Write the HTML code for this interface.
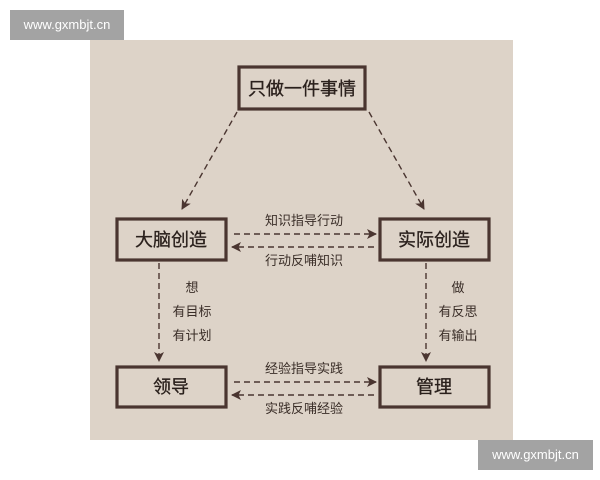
<!DOCTYPE html>
<html><head><meta charset="utf-8"><style>
body{margin:0;width:600px;height:480px;background:#fff;position:relative;overflow:hidden;font-family:"Liberation Sans","Noto Sans CJK SC",sans-serif}
.wm{position:absolute;background:#a3a3a3;color:#fff;font-size:13px;line-height:30px;text-align:center}
</style></head><body>
<div class="wm" style="left:10px;top:10px;width:114px;height:30px">www.gxmbjt.cn</div>
<div style="position:absolute;left:90px;top:40px;width:423px;height:400px;background:#ddd3c8"></div>
<div class="wm" style="left:478px;top:440px;width:115px;height:30px">www.gxmbjt.cn</div>
<svg width="600" height="480" style="position:absolute;left:0;top:0" font-family="Liberation Sans, Noto Sans CJK SC, sans-serif">
<defs><marker id="a" markerWidth="12" markerHeight="12" refX="9" refY="5" orient="auto" markerUnits="userSpaceOnUse"><path d="M0,0 L10,5 L0,10 L2.5,5Z" fill="#4a3530"/></marker></defs>
<g fill="none" stroke="#4a3530" stroke-width="3.2">
<rect x="239" y="67" width="126" height="42"/>
<rect x="117" y="219" width="109" height="41"/>
<rect x="380" y="219" width="109" height="41"/>
<rect x="117" y="367" width="109" height="40"/>
<rect x="380" y="367" width="109" height="40"/>
</g>
<g stroke="#4a3530" stroke-width="1.4" stroke-dasharray="6,4" fill="none" marker-end="url(#a)">
<line x1="237" y1="112" x2="182" y2="209"/>
<line x1="369" y1="112" x2="424" y2="209"/>
<line x1="234" y1="234" x2="376" y2="234"/>
<line x1="374" y1="247" x2="232" y2="247"/>
<line x1="234" y1="382" x2="376" y2="382"/>
<line x1="374" y1="395" x2="232" y2="395"/>
<line x1="159" y1="263" x2="159" y2="361"/>
<line x1="426" y1="263" x2="426" y2="361"/>
</g>
<g fill="#2a201c" text-anchor="middle" font-size="18" stroke="#2a201c" stroke-width="0.3">
<text x="302" y="95">只做一件事情</text>
<text x="171" y="246">大脑创造</text>
<text x="434" y="246">实际创造</text>
<text x="171" y="393">领导</text>
<text x="434" y="393">管理</text>
</g>
<g fill="#3a2e28" text-anchor="middle" font-size="13">
<text x="304" y="225">知识指导行动</text>
<text x="304" y="265">行动反哺知识</text>
<text x="304" y="373">经验指导实践</text>
<text x="304" y="413">实践反哺经验</text>
<text x="192" y="292">想</text>
<text x="192" y="316">有目标</text>
<text x="192" y="340">有计划</text>
<text x="458" y="292">做</text>
<text x="458" y="316">有反思</text>
<text x="458" y="340">有输出</text>
</g>
</svg>
</body></html>
